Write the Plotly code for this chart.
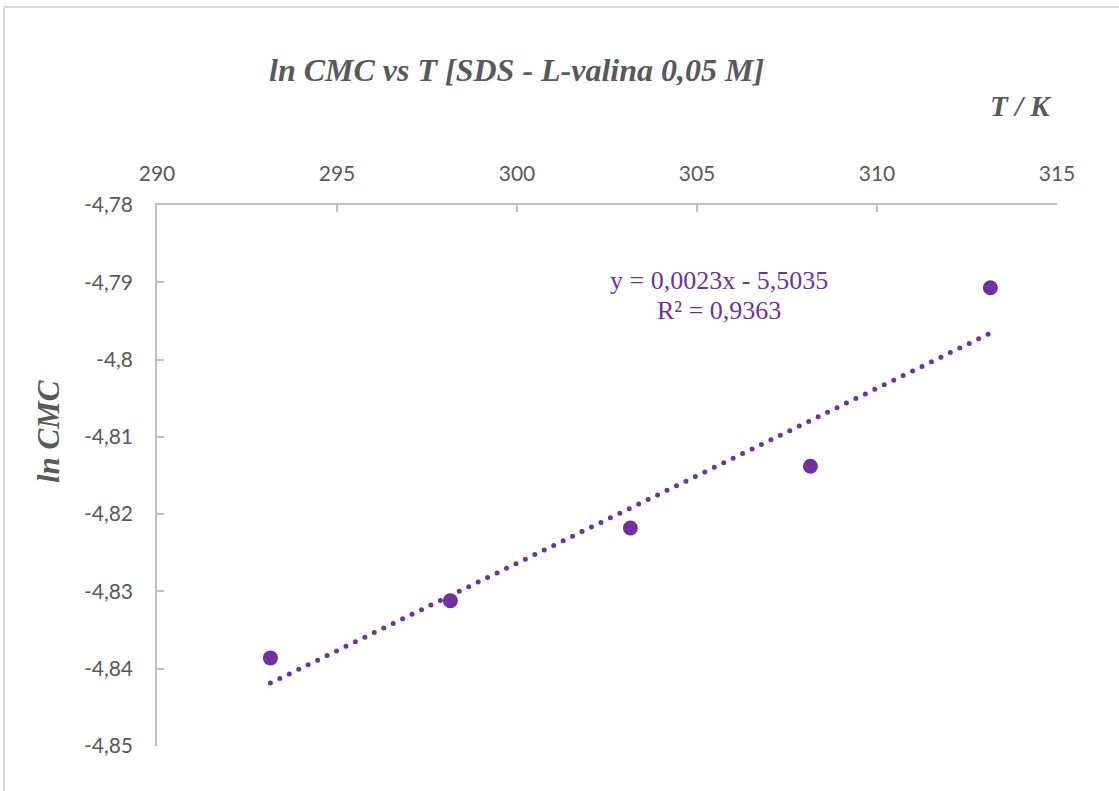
import numpy as np
import plotly.graph_objects as go

# ---- data ----
T_K = [293.15, 298.15, 303.15, 308.15, 313.15]
ln_cmc = [-4.8386, -4.8312, -4.8218, -4.8138, -4.7907]

x_tickvals = [290, 295, 300, 305, 310, 315]
x_ticktext = ["290", "295", "300", "305", "310", "315"]
y_tickvals = [-4.78, -4.79, -4.80, -4.81, -4.82, -4.83, -4.84, -4.85]
y_ticktext = ["-4,78", "-4,79", "-4,8", "-4,81", "-4,82", "-4,83", "-4,84", "-4,85"]

title_text = "ln CMC vs T [SDS - L-valina 0,05 M]"
x_title = "T / K"
y_title = "ln CMC"
eq_line1 = "y = 0,0023x - 5,5035"
eq_line2 = "R² = 0,9363"

# ---- trendline (linear fit of data) ----
slope, intercept = np.polyfit(T_K, ln_cmc, 1)
fit_x = [min(T_K), max(T_K)]
fit_y = [slope * v + intercept for v in fit_x]

PURPLE = "#7030A0"
GRAY_TXT = "#595959"
AXIS_COL = "#BFBFBF"

W, H = 1119, 791
L, R, T, B = 157, 62, 205, 45
PW, PH = W - L - R, H - T - B


def xp(px):
    return (px - L) / PW


def yp(py):
    return (H - B - py) / PH


fig = go.Figure()
fig.add_trace(go.Scatter(
    x=fit_x, y=fit_y, mode="lines",
    line=dict(color=PURPLE, width=5, dash="0px,10.5px"),
    hoverinfo="skip", showlegend=False,
))
fig.add_trace(go.Scatter(
    x=T_K, y=ln_cmc, mode="markers",
    marker=dict(color=PURPLE, size=15, line=dict(width=0)),
    showlegend=False,
))

tick_font = dict(family="Lato, Carlito, sans-serif", size=21, color=GRAY_TXT)

fig.update_xaxes(
    range=[290, 315], side="top", tickvals=x_tickvals, ticktext=x_ticktext,
    showgrid=False, zeroline=False, showline=True, linecolor=AXIS_COL, linewidth=1.5,
    ticks="inside", ticklen=7, tickcolor=AXIS_COL, tickwidth=1.5,
    tickfont=tick_font, ticklabelstandoff=14,
)
fig.update_yaxes(
    range=[-4.85, -4.78], tickvals=y_tickvals, ticktext=y_ticktext,
    showgrid=False, zeroline=False, showline=True, linecolor=AXIS_COL, linewidth=1.5,
    ticks="inside", ticklen=7, tickcolor=AXIS_COL, tickwidth=1.5,
    tickfont=tick_font, ticklabelstandoff=18,
)

serif_bi = "Liberation Serif, Times New Roman, serif"
annotations = [
    dict(text="<b><i>" + title_text + "</i></b>", x=xp(516), y=yp(70),
         font=dict(family=serif_bi, size=32, color=GRAY_TXT)),
    dict(text="<b><i>" + x_title + "</i></b>", x=xp(1020), y=yp(106),
         font=dict(family=serif_bi, size=29, color=GRAY_TXT)),
    dict(text="<b><i>" + y_title + "</i></b>", x=xp(48), y=yp(432), textangle=-90,
         font=dict(family=serif_bi, size=31, color=GRAY_TXT)),
    dict(text=eq_line1, x=xp(719), y=yp(280),
         font=dict(family=serif_bi, size=26, color=PURPLE)),
    dict(text=eq_line2, x=xp(719), y=yp(310),
         font=dict(family=serif_bi, size=26, color=PURPLE)),
]
for a in annotations:
    a.update(xref="paper", yref="paper", xanchor="center", yanchor="middle", showarrow=False)

shapes = [
    dict(type="line", xref="paper", yref="paper", x0=xp(4), x1=xp(4), y0=yp(7), y1=yp(800),
         line=dict(color="#D9D9D9", width=2)),
    dict(type="line", xref="paper", yref="paper", x0=xp(4), x1=xp(1130), y0=yp(7), y1=yp(7),
         line=dict(color="#D9D9D9", width=2)),
]

fig.update_layout(
    width=W, height=H, autosize=False,
    margin=dict(l=L, r=R, t=T, b=B),
    paper_bgcolor="white", plot_bgcolor="white",
    annotations=annotations, shapes=shapes,
    showlegend=False,
)

post = """
var gd = document.getElementById('{plot_id}');
var paths = gd.querySelectorAll('.scatterlayer .trace:first-child path.js-line');
paths.forEach(function(p){ p.style.strokeLinecap = 'round'; });
"""

fig.write_html("out.html", post_script=post, config={"displayModeBar": False})
